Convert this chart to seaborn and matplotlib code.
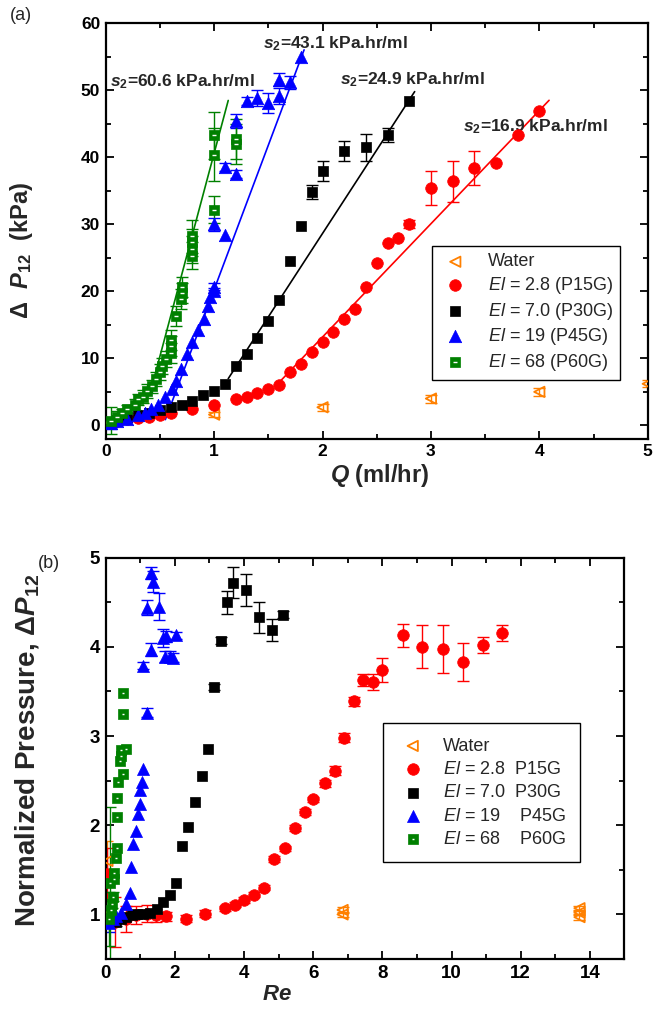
import matplotlib
matplotlib.use('Agg')
from matplotlib import pyplot as plt
from matplotlib.ticker import MultipleLocator
import seaborn as sns
import numpy as np
import pandas as pd

# ---- panel (a): pressure drop vs flow rate ----
water_q = [0.05, 1.0, 2.0, 3.0, 4.0, 5.0]
water_dp = [0.4, 1.6, 2.7, 4.0, 5.0, 6.2]
water_err = [0.5, 0.4, 0.5, 0.6, 0.6, 0.5]

p15_q = [0.1, 0.2, 0.3, 0.4, 0.5, 0.6, 0.8, 1.0, 1.2, 1.3, 1.4, 1.5, 1.6, 1.7, 1.8, 1.9,
         2.0, 2.1, 2.2, 2.3, 2.4, 2.5, 2.6, 2.7, 2.8, 3.0, 3.2, 3.4, 3.6, 3.8, 4.0]
p15_dp = [0.6, 0.9, 1.1, 1.3, 1.6, 1.9, 2.4, 3.1, 3.9, 4.3, 4.8, 5.4, 6.0, 7.9, 9.1, 10.9,
          12.4, 13.9, 15.8, 17.3, 20.6, 24.3, 27.2, 27.9, 30.0, 35.4, 36.4, 38.4, 39.1, 43.3, 46.9]
p15_err = [0.3, 0.2, 0.2, 0, 0, 0, 0, 0, 0, 0, 0, 0, 0, 0, 0, 0,
           0, 0, 0, 0, 0, 0, 0, 0, 0.6, 2.5, 3.0, 2.5, 0, 0, 0]

p30_q = [0.1, 0.2, 0.3, 0.4, 0.5, 0.6, 0.7, 0.8, 0.9, 1.0, 1.1, 1.2, 1.3, 1.4, 1.5, 1.6,
         1.7, 1.8, 1.9, 2.0, 2.2, 2.4, 2.6, 2.8]
p30_dp = [0.8, 1.2, 1.6, 1.9, 2.3, 2.7, 3.1, 3.6, 4.5, 5.1, 6.1, 8.8, 10.6, 13.1, 15.6, 18.7,
          24.6, 29.7, 34.8, 37.9, 41.0, 41.5, 43.3, 48.4]
p30_err = [0.3, 0.2, 0, 0, 0, 0, 0, 0, 0, 0, 0, 0, 0, 0, 0, 0,
           0, 0, 1.0, 1.5, 1.5, 2.0, 1.0, 0]

p45_q = [0.05, 0.1, 0.2, 0.3, 0.36, 0.42, 0.48, 0.55, 0.61, 0.65, 0.69, 0.75, 0.8, 0.85, 0.91,
         0.94, 0.96, 1.0, 1.0, 1.0, 1.1, 1.1, 1.2, 1.2, 1.3, 1.4, 1.5, 1.6, 1.6, 1.7, 1.8]
p45_dp = [0.3, 0.6, 1.0, 1.5, 1.9, 2.4, 3.1, 4.2, 5.4, 6.6, 8.4, 10.6, 12.4, 14.3, 15.8,
          17.8, 19.1, 20.0, 20.7, 30.0, 28.4, 38.5, 37.5, 45.4, 48.4, 48.9, 48.1, 49.1, 51.6, 51.2, 54.9]
p45_err = [0.8, 0.5, 0.3, 0, 0, 0, 0, 0, 0, 0, 0, 0, 0, 0, 0,
           0, 0, 0.5, 0.5, 1.0, 0, 0.6, 0.6, 1.0, 0.6, 1.2, 1.5, 1.2, 1.0, 1.0, 0]

p60_q = [0.05, 0.1, 0.15, 0.2, 0.27, 0.3, 0.34, 0.38, 0.43, 0.46, 0.5, 0.52, 0.56, 0.6, 0.6,
         0.6, 0.65, 0.69, 0.7, 0.7, 0.8, 0.8, 0.8, 0.8, 1.0, 1.0, 1.0, 1.2, 1.2]
p60_dp = [0.7, 1.3, 1.8, 2.5, 3.1, 3.9, 4.3, 5.1, 5.8, 6.9, 7.9, 8.8, 9.9, 10.8, 11.8,
          12.8, 16.3, 18.8, 19.8, 20.7, 25.3, 26.3, 27.3, 28.2, 32.2, 40.4, 43.3, 42.0, 42.7]
p60_err = [2.0, 0.8, 0.6, 0.6, 0.8, 0.8, 1.0, 1.0, 1.0, 1.0, 1.2, 1.2, 1.2, 1.5, 1.5,
           1.5, 1.5, 1.5, 1.5, 1.5, 2.0, 2.0, 2.0, 2.5, 2.0, 4.0, 3.5, 3.0, 3.0]

# linear fits (slope s2 in kPa.hr/ml, x-intercept, drawn range)
fit_slope = [16.9, 24.9, 43.1, 60.6]
fit_q0 = [1.22, 0.85, 0.53, 0.33]
fit_qstart = [1.6, 1.13, 0.55, 0.45]
fit_qend = [4.09, 2.85, 1.83, 1.13]
fit_text_q = [3.3, 2.16, 1.45, 0.04]
fit_text_dp = [44.5, 51.6, 57.0, 51.3]

# ---- panel (b): normalized pressure vs Re ----
bw_re = [0.05, 0.05, 6.85, 6.85, 13.7, 13.7, 13.7]
bw_p = [1.6, 1.0, 1.0, 1.05, 0.97, 1.02, 1.07]
bw_err = [0.22, 0, 0.03, 0.03, 0.03, 0.03, 0.03]

b15_re = [0.05, 0.26, 0.6, 0.87, 1.18, 1.44, 1.73, 2.31, 2.86, 3.44, 3.73, 4.0, 4.28, 4.57, 4.86,
          5.17, 5.46, 5.75, 6.0, 6.33, 6.62, 6.88, 7.17, 7.43, 7.72, 8.0, 8.61, 9.16, 9.74, 10.32,
          10.9, 11.47]
b15_p = [1.45, 0.91, 0.95, 0.99, 1.01, 0.99, 0.98, 0.95, 1.01, 1.07, 1.11, 1.16, 1.22, 1.3, 1.62,
         1.74, 1.97, 2.15, 2.29, 2.47, 2.61, 2.98, 3.39, 3.63, 3.61, 3.74, 4.13, 4.0, 3.98, 3.83,
         4.02, 4.16]
b15_err = [0.3, 0.28, 0.15, 0.1, 0.1, 0.07, 0.05, 0.04, 0.04, 0.03, 0.03, 0.03, 0.03, 0.03, 0.03,
           0.03, 0.03, 0.03, 0.03, 0.04, 0.05, 0.05, 0.05, 0.07, 0.09, 0.13, 0.13, 0.24, 0.27, 0.21,
           0.09, 0.09]

b30_re = [0.3, 0.45, 0.6, 0.75, 0.9, 1.07, 1.27, 1.47, 1.65, 1.85, 2.02, 2.2, 2.37, 2.57, 2.77,
          2.95, 3.12, 3.32, 3.5, 3.67, 4.07, 4.42, 4.8, 5.14]
b30_p = [0.92, 0.95, 0.97, 0.99, 1.0, 1.01, 1.02, 1.06, 1.14, 1.22, 1.35, 1.77, 1.98, 2.26, 2.55,
         2.85, 3.55, 4.07, 4.5, 4.72, 4.64, 4.33, 4.19, 4.36]
b30_err = [0.05, 0.03, 0, 0, 0, 0, 0, 0, 0, 0, 0, 0, 0, 0, 0,
           0, 0.03, 0.04, 0.13, 0.17, 0.18, 0.17, 0.12, 0.04]

b45_re = [0.1, 0.2, 0.3, 0.45, 0.6, 0.69, 0.74, 0.79, 0.87, 0.93, 0.98, 1.0, 1.04, 1.07, 1.18,
          1.08, 1.3, 1.18, 1.54, 1.32, 1.38, 1.66, 1.74, 1.7, 1.85, 1.94, 2.04]
b45_p = [0.9, 0.95, 0.98, 1.02, 1.12, 1.24, 1.53, 1.79, 1.94, 2.13, 2.24, 2.39, 2.48, 2.63, 3.26,
         3.79, 3.97, 4.44, 4.45, 4.83, 4.73, 4.1, 4.12, 3.89, 3.89, 3.88, 4.13]
b45_err = [0.1, 0.05, 0, 0, 0, 0, 0, 0, 0, 0, 0, 0, 0, 0, 0.05,
           0.04, 0.07, 0.08, 0.15, 0.07, 0.12, 0.1, 0.06, 0.06, 0.06, 0.05, 0.04]

b60_re = [0.08, 0.12, 0.14, 0.17, 0.2, 0.23, 0.23, 0.29, 0.32, 0.32, 0.32, 0.35, 0.5, 0.4, 0.43,
          0.43, 0.6, 0.5, 0.5]
b60_p = [0.95, 1.35, 1.05, 1.12, 1.2, 1.4, 1.46, 1.63, 1.74, 2.09, 2.3, 2.48, 2.58, 2.72, 2.78,
         2.84, 2.86, 3.25, 3.48]
b60_err = [0.3, 0.85, 0.1, 0.05, 0.05, 0, 0, 0, 0, 0, 0, 0, 0, 0, 0,
           0, 0, 0, 0]

xa_ticks = [0, 1, 2, 3, 4, 5]
ya_ticks = [0, 10, 20, 30, 40, 50, 60]
xb_ticks = [0, 2, 4, 6, 8, 10, 12, 14]
yb_ticks = [1, 2, 3, 4, 5]

legend_a = ['Water', r'$\mathit{El}$ = 2.8 (P15G)', r'$\mathit{El}$ = 7.0 (P30G)',
            r'$\mathit{El}$ = 19 (P45G)', r'$\mathit{El}$ = 68 (P60G)']
legend_b = ['Water', r'$\mathit{El}$ = 2.8  P15G', r'$\mathit{El}$ = 7.0  P30G',
            r'$\mathit{El}$ = 19    P45G', r'$\mathit{El}$ = 68    P60G']

ORANGE = '#ff8000'
RED = '#ff0000'
BLACK = '#000000'
BLUE = '#0000ff'
GREEN = '#008000'

sns.set_theme(style='ticks')
plt.rcParams['font.family'] = ['Liberation Sans', 'DejaVu Sans']
plt.rcParams['mathtext.fontset'] = 'custom'
plt.rcParams['mathtext.rm'] = 'Liberation Sans'
plt.rcParams['mathtext.it'] = 'Liberation Sans:italic'
plt.rcParams['mathtext.bf'] = 'Liberation Sans:bold'
plt.rcParams['mathtext.bfit'] = 'Liberation Sans:italic:bold'


def draw_series(ax, x, y, err, color, marker, s, open_marker=False, bar=False):
    x = np.asarray(x)
    y = np.asarray(y)
    err = np.asarray(err)
    m = err > 0
    ax.errorbar(x[m], y[m], yerr=err[m], fmt='none', ecolor=color, elinewidth=1,
                capsize=4, capthick=1, zorder=2)
    if open_marker:
        h = sns.scatterplot(x=x, y=y, ax=ax, marker=marker, s=s, color=color,
                            facecolor='none', edgecolor=color, linewidth=1.3, zorder=3)
    else:
        h = sns.scatterplot(x=x, y=y, ax=ax, marker=marker, s=s, color=color,
                            edgecolor=color, linewidth=0.5, zorder=3)
    handle = h.collections[-1]
    if bar:
        # white dash inside the green squares (half-filled look)
        sns.scatterplot(x=x, y=y, ax=ax, marker='_', s=s * 0.1, color='white',
                        edgecolor='white', linewidth=1.0, zorder=4)
        handle = (handle, h.collections[-1])
    return handle


def style_axes(ax, xt, yt, xminor, yminor, fs):
    ax.set_xticks(xt)
    ax.set_xticklabels([str(t) for t in xt], fontweight='bold', fontsize=fs)
    ax.set_yticks(yt)
    ax.set_yticklabels([str(t) for t in yt], fontweight='bold', fontsize=fs)
    ax.xaxis.set_minor_locator(MultipleLocator(xminor))
    ax.yaxis.set_minor_locator(MultipleLocator(yminor))
    ax.tick_params(which='both', direction='in', top=True, right=True, width=1.3,
                   colors='black', pad=4)
    ax.tick_params(which='major', length=6)
    ax.tick_params(which='minor', length=3.5)
    for sp in ax.spines.values():
        sp.set_linewidth(1.6)
        sp.set_color('black')


fig = plt.figure(figsize=(6.65, 10.11), dpi=100)
ax1 = fig.add_axes([0.159, 0.566, 0.815, 0.411])
ax2 = fig.add_axes([0.159, 0.0514, 0.780, 0.397])

# ---------- panel (a) ----------
fit_colors = [RED, BLACK, BLUE, GREEN]
for k in range(4):
    qq = np.array([fit_qstart[k], fit_qend[k]])
    line = pd.DataFrame({'Q': qq, 'dP': fit_slope[k] * (qq - fit_q0[k])})
    sns.lineplot(data=line, x='Q', y='dP', ax=ax1, color=fit_colors[k], linewidth=1.2, zorder=1)
    ax1.text(fit_text_q[k], fit_text_dp[k],
             r'$\mathbfit{s}_{\mathbf{2}}$=' + f'{fit_slope[k]:.1f} kPa.hr/ml',
             fontsize=12.5, fontweight='bold', ha='left', va='center')

ha = [
    draw_series(ax1, water_q, water_dp, water_err, ORANGE, '<', 55, open_marker=True),
    draw_series(ax1, p15_q, p15_dp, p15_err, RED, 'o', 70),
    draw_series(ax1, p30_q, p30_dp, p30_err, BLACK, 's', 55),
    draw_series(ax1, p45_q, p45_dp, p45_err, BLUE, '^', 80),
    draw_series(ax1, p60_q, p60_dp, p60_err, GREEN, 's', 50, bar=True),
]
ax1.set_xlim(0, 5)
ax1.set_ylim(-2, 60)
style_axes(ax1, xa_ticks, ya_ticks, 0.5, 5, 12.5)
ax1.set_xlabel(r'$\mathbfit{Q}$ (ml/hr)', fontsize=17, fontweight='bold')
ax1.set_ylabel(r'Δ  $\mathbfit{P}_{\mathbf{12}}$  (kPa)', fontsize=17, fontweight='bold')
ax1.xaxis.set_label_coords(0.505, -0.055)
ax1.yaxis.set_label_coords(-0.13, 0.454)
ax1.legend(ha, legend_a, loc='upper left', bbox_to_anchor=(0.585, 0.485), fontsize=13,
           frameon=True, fancybox=False, edgecolor='black', framealpha=1,
           borderpad=0.4, labelspacing=0.25, handletextpad=0.9, handlelength=1.8)
ax1.get_legend().get_frame().set_linewidth(1.0)

# ---------- panel (b) ----------
hb = [
    draw_series(ax2, bw_re, bw_p, bw_err, ORANGE, '<', 55, open_marker=True),
    draw_series(ax2, b15_re, b15_p, b15_err, RED, 'o', 70),
    draw_series(ax2, b30_re, b30_p, b30_err, BLACK, 's', 50),
    draw_series(ax2, b45_re, b45_p, b45_err, BLUE, '^', 75),
    draw_series(ax2, b60_re, b60_p, b60_err, GREEN, 's', 45, bar=True),
]
ax2.set_xlim(0, 15)
ax2.set_ylim(0.5, 5)
style_axes(ax2, xb_ticks, yb_ticks, 1, 0.5, 13.5)
ax2.set_xlabel(r'$\mathbfit{Re}$', fontsize=16)
ax2.set_ylabel(r'Normalized Pressure, Δ$\mathbfit{P}_{\mathbf{12}}$', fontsize=20,
               fontweight='bold')
ax2.xaxis.set_label_coords(0.33, -0.062)
ax2.yaxis.set_label_coords(-0.125, 0.52)
ax2.legend(hb, legend_b, loc='upper left', bbox_to_anchor=(0.517, 0.61), fontsize=13,
           frameon=True, fancybox=False, edgecolor='black', framealpha=1,
           borderpad=0.8, labelspacing=0.35, handletextpad=0.8, handlelength=1.7)
ax2.get_legend().get_frame().set_linewidth(1.0)

fig.text(0.015, 0.985, '(a)', fontsize=13, va='center', ha='left')
fig.text(0.057, 0.443, '(b)', fontsize=13, va='center', ha='left')

fig.savefig('out.png', dpi=100)
